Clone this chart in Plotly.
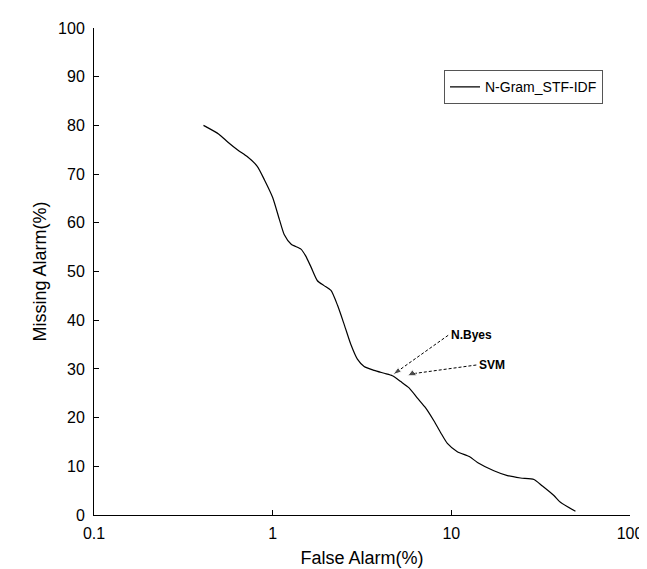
import numpy as np
import plotly.graph_objects as go

# ---- data ----
false_alarm = [0.41, 0.50, 0.56, 0.64, 0.72, 0.82, 0.90, 1.00, 1.09, 1.16, 1.27, 1.44, 1.53,
               1.64, 1.78, 1.94, 2.12, 2.31, 2.52, 2.74, 2.98, 3.25, 3.70, 4.21, 4.68, 5.21,
               5.80, 6.46, 7.18, 8.00, 8.72, 9.50, 10.8, 12.6, 14.0, 17.3, 20.6, 24.4, 29.0,
               32.2, 37.5, 40.8, 49.5]
missing_alarm = [80.0, 78.2, 76.6, 74.9, 73.6, 71.6, 68.8, 65.2, 60.7, 57.6, 55.6, 54.6, 53.2,
                 50.9, 48.1, 47.1, 46.1, 43.0, 39.0, 35.0, 32.0, 30.5, 29.7, 29.1, 28.6, 27.4,
                 26.1, 24.0, 22.0, 19.3, 16.9, 14.7, 13.0, 12.0, 10.8, 9.1, 8.1, 7.6, 7.3,
                 6.0, 4.0, 2.6, 0.75]
series_name = "N-Gram_STF-IDF"

classifier_names = ["N.Byes", "SVM"]
classifier_fa = [4.70, 6.05]
classifier_ma = [28.8, 29.0]
# where each callout label sits (data coordinates)
label_fa = [9.6, 13.8]
label_ma = [36.9, 30.8]

x_ticks = [0.1, 1, 10, 100]
x_tick_text = ["0.1", "1", "10", "100"]

FONT = "Liberation Sans, Arial, Helvetica, sans-serif"

fig = go.Figure()
fig.add_trace(go.Scatter(
    x=false_alarm, y=missing_alarm, mode="lines", name=series_name,
    line=dict(color="black", width=1.2, shape="spline", smoothing=0.6),
))

symbols = ["arrow", "triangle-up"]
sizes = [9, 8]
for i, name in enumerate(classifier_names):
    fig.add_trace(go.Scatter(
        x=[label_fa[i], classifier_fa[i]], y=[label_ma[i], classifier_ma[i]],
        mode="lines+markers", showlegend=False, hoverinfo="skip",
        line=dict(color="black", width=1, dash="3px,2px"),
        marker=dict(symbol=symbols[i], size=[0, sizes[i]], color="black",
                    angleref="previous" if symbols[i] == "arrow" else "up"),
    ))
    fig.add_annotation(
        x=np.log10(label_fa[i]), y=label_ma[i], text="<b>%s</b>" % name,
        showarrow=False, xanchor="left", yanchor="middle", xshift=1,
        font=dict(family=FONT, size=12, color="black"),
    )

fig.update_layout(
    width=647, height=569,
    margin=dict(l=86, r=25, t=17, b=61),
    paper_bgcolor="white", plot_bgcolor="white",
    font=dict(family=FONT, size=16, color="black"),
    showlegend=True,
    legend=dict(
        x=0.653, y=0.913, xanchor="left", yanchor="top",
        bordercolor="#555555", borderwidth=1, bgcolor="white",
        font=dict(family=FONT, size=14, color="black"),
        itemwidth=30,
    ),
)
fig.update_xaxes(
    type="log", range=[-1, 2], tickvals=x_ticks, ticktext=x_tick_text,
    ticks="inside", ticklen=5, tickcolor="black", showline=True, linecolor="black",
    linewidth=1, showgrid=False, zeroline=False, ticklabelstandoff=4,
    title=dict(text="False Alarm(%)", font=dict(size=18), standoff=10),
)
fig.update_yaxes(
    range=[0, 100], dtick=10, ticks="inside", ticklen=5, tickcolor="black",
    showline=True, linecolor="black", linewidth=1, showgrid=False, zeroline=False,
    ticklabelstandoff=5,
    title=dict(text="Missing Alarm(%)", font=dict(size=18), standoff=6),
)

fig.write_html("out.html")
